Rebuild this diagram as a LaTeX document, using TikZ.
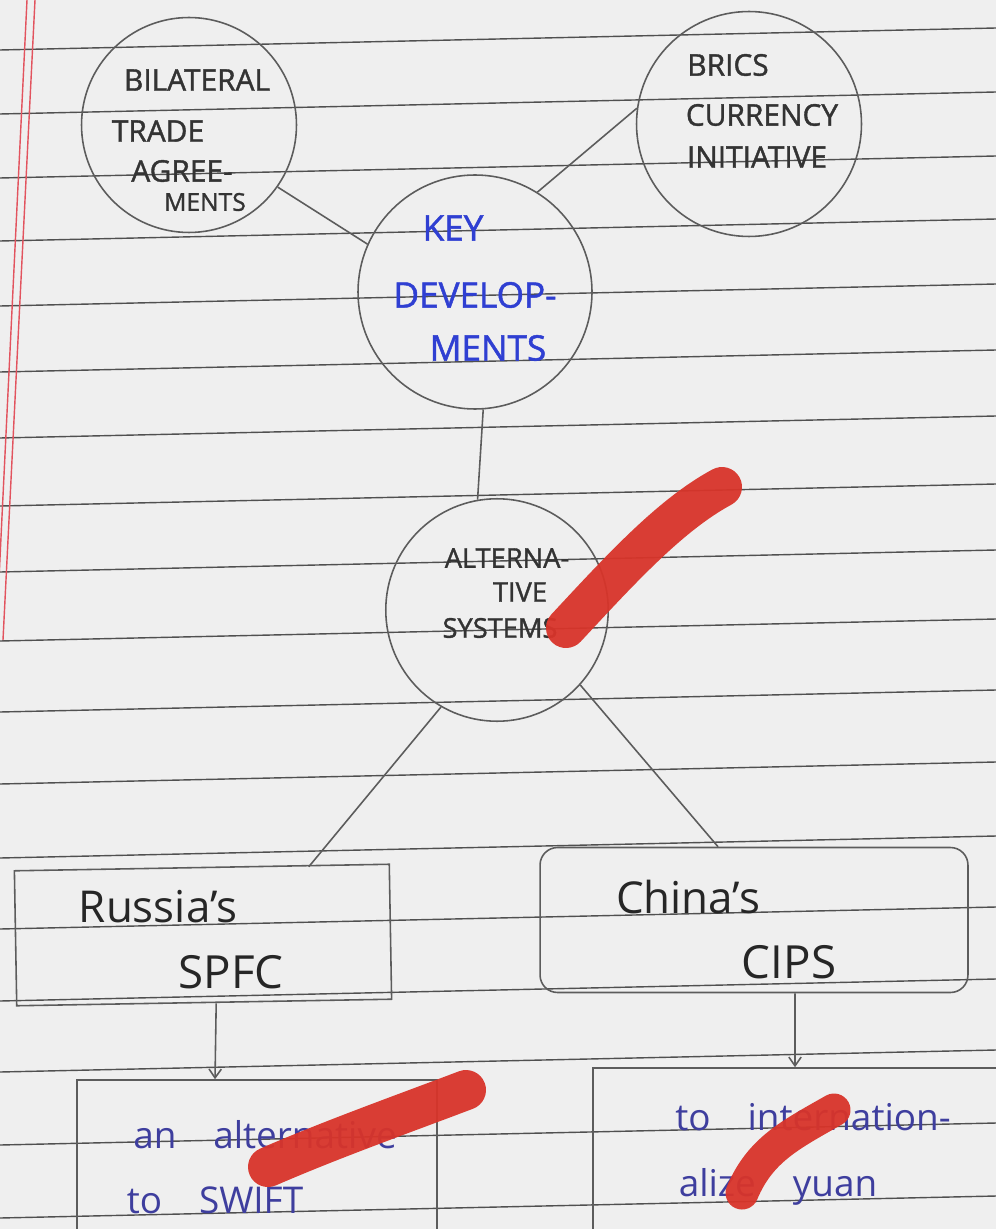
\documentclass[tikz,border=0pt]{standalone}
\usepackage{fontspec}
\setmainfont{Open Sans}
\newfontfamily\penfont{Open Sans}[FakeBold=1.3]
\usetikzlibrary{arrows.meta, positioning, calc}

\definecolor{paper}{HTML}{EFEFEF}
\definecolor{pencil}{HTML}{5C5C5C}
\definecolor{ruling}{HTML}{505050}
\definecolor{keyblue}{HTML}{2F3FD2}
\definecolor{inkblue}{HTML}{3E3E9E}
\definecolor{markred}{HTML}{D8342A}
\definecolor{marginred}{HTML}{E2535E}

\begin{document}
\begin{tikzpicture}[x=0.02cm, y=-0.02cm,
    bubble/.style={circle, draw=pencil, line width=0.9pt, inner sep=0pt},
    box/.style={rectangle, draw=pencil, line width=0.9pt, inner sep=0pt},
    caps/.style={text=black!80, font=\penfont\fontsize{17}{17}\selectfont, inner sep=0pt},
    keytext/.style={text=keyblue, font=\penfont\fontsize{20}{20}\selectfont, inner sep=0pt},
    word/.style={text=black!85, font=\fontsize{25}{25}\selectfont, inner sep=0pt},
    notetext/.style={text=inkblue, font=\fontsize{21}{21}\selectfont, inner sep=0pt},
    link/.style={draw=pencil, line width=0.9pt},
    arrow/.style={link, -{Straight Barb[length=5pt, width=7pt]}},
    ruled/.style={draw=ruling, line width=0.8pt},
    redmark/.style={draw=markred, line width=0.8cm, line cap=round, opacity=0.95}]

    % paper
    \fill[paper] (0,0) rectangle (996,1229);
    \useasboundingbox (0,0) rectangle (996,1229);
    \clip (0,0) rectangle (996,1229);
    \foreach \y in {50,114,178,241,306,372,438,506,572,641,712,784,858,929,1001,1072,1145,1218}
        \draw[ruled] (0,\y) -- (996,{\y-22});
    \draw[marginred, line width=0.8pt] (27,0) -- (-3,620);
    \draw[marginred, line width=0.8pt] (35,0) -- (3,640);

    % circles
    \node[bubble, minimum size=4.3cm] (bil) at (189,125) {};
    \node[bubble, minimum size=4.5cm] (brics) at (749,124) {};
    \node[bubble, minimum size=4.68cm] (key) at (475,292) {};
    \node[bubble, minimum size=4.45cm] (alt) at (497,610) {};

    \node[caps] (bil1) at (197,80) {BILATERAL};
    \node[caps] (bil2) at (158,131) {TRADE};
    \node[caps] (bil3) at (182,171) {AGREE-};
    \node[caps, font=\penfont\fontsize{14}{14}\selectfont] (bil4) at (205,202) {MENTS};

    \node[caps] (brics1) at (728,65) {BRICS};
    \node[caps] (brics2) at (762,115) {CURRENCY};
    \node[caps] (brics3) at (757,157) {INITIATIVE};

    \node[keytext] (key1) at (453,228) {KEY};
    \node[keytext] (key2) at (475,295) {DEVELOP-};
    \node[keytext] (key3) at (488,348) {MENTS};

    \node[caps, font=\penfont\fontsize{15.5}{15.5}\selectfont] (alt1) at (507,558) {ALTERNA-};
    \node[caps, font=\penfont\fontsize{15.5}{15.5}\selectfont] (alt2) at (520,592) {TIVE};
    \node[caps, font=\penfont\fontsize{15.5}{15.5}\selectfont] (alt3) at (500,628) {SYSTEMS};

    % boxes
    \node[box, minimum width=7.5cm, minimum height=2.7cm, rotate=1] (rus) at (203,935) {};
    \node[box, rounded corners=0.35cm, minimum width=8.56cm, minimum height=2.9cm] (chn) at (754,920) {};
    \node[box, minimum width=7.2cm, minimum height=4cm] (bl) at (257,1180) {};
    \node[box, minimum width=10.12cm, minimum height=4cm] (br) at (846,1168) {};

    \node[word] (rus1) at (158,907) {Russia's};
    \node[word, font=\fontsize{26}{26}\selectfont] (rus2) at (231,972) {SPFC};
    \node[word] (chn1) at (688,897) {China's};
    \node[word, font=\fontsize{26}{26}\selectfont] (chn2) at (789,962) {CIPS};

    \node[notetext] (bl1) at (265,1135) {an\quad alternative};
    \node[notetext] (bl2) at (215,1200) {to\quad SWIFT};
    \node[notetext] (br1) at (813,1117) {to\quad internation-};
    \node[notetext] (br2) at (778,1187) {alize\quad yuan};

    % connectors
    \path[link] (bil.-35) -- (key.156);
    \path[link] (key.58) -- (brics.172);
    \path[link] (key.-86) -- (alt.100);
    \path[link] (alt.-120) -- ([xshift=2.14cm]rus.north);
    \path[link] (alt.-42) -- ([xshift=-0.72cm]chn.north);
    \path[arrow] ([xshift=0.24cm]rus.south) -- ([xshift=-0.84cm]bl.north);
    \path[arrow] ([xshift=0.82cm]chn.south) -- ([xshift=-1.02cm]br.north);

    % red marker strokes
    \draw[redmark] (566,628) .. controls (620,570) and (670,515) .. (722,487);
    \draw[redmark] (268,1167) .. controls (330,1140) and (400,1115) .. (466,1090);
    \draw[redmark, line width=0.66cm] (742,1193) .. controls (760,1150) and (790,1135) .. (834,1110);
\end{tikzpicture}
\end{document}
